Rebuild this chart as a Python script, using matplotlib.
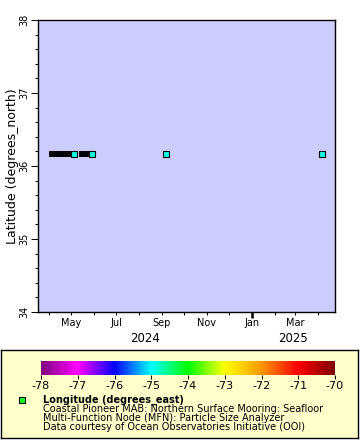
import datetime as dt

import matplotlib
matplotlib.use('Agg')
import matplotlib.pyplot as plt
import matplotlib.dates as mdates
import matplotlib.transforms as mtransforms
from matplotlib.colors import LinearSegmentedColormap, Normalize
from matplotlib.patches import Rectangle
import numpy as np

plt.rcParams['font.family'] = ['DejaVu Sans']
plt.rcParams['axes.unicode_minus'] = False

# deployments drawn as dense runs of points (start, end) plus isolated points
seg_start = ['2024-04-05', '2024-05-15']
seg_end = ['2024-05-05', '2024-05-29']
single_times = ['2024-09-06', '2025-04-06']
latitude = 36.17
longitude = -74.85

x_range = ['2024-03-16', '2025-04-24']
lat_range = (34, 38)
lon_range = (-78, -70)
cbar_ticks = [-78, -77, -76, -75, -74, -73, -72, -71, -70]
cmap_colors = ['#800080', '#ff00ff', '#0000ff', '#00ffff', '#00ff00',
               '#ffff00', '#ff9900', '#ff0000', '#800000']

legend_title = 'Longitude (degrees_east)'
legend_lines = ['Coastal Pioneer MAB: Northern Surface Mooring: Seafloor',
                'Multi-Function Node (MFN): Particle Size Analyzer',
                'Data courtesy of Ocean Observatories Initiative (OOI)']

W, H = 360, 440


def fx(px):
    return px / W


def fy(py):
    return 1 - py / H


def to_date(s):
    return dt.datetime.strptime(s, '%Y-%m-%d')


cmap = LinearSegmentedColormap.from_list('rainbow2', cmap_colors)
norm = Normalize(*lon_range)
pt_color = cmap(norm(longitude))

fig = plt.figure(figsize=(W / 100, H / 100), dpi=100)

# legend box (an empty axes so it sits under the colorbar)
lax = fig.add_axes([fx(1), fy(438), fx(357), fy(350) - fy(438)], zorder=0)
lax.set_facecolor('#ffffcc')
lax.set_xticks([])
lax.set_yticks([])
for sp in lax.spines.values():
    sp.set_linewidth(1)

ax = fig.add_axes([fx(37.5), fy(312), fx(335) - fx(37.5), fy(20) - fy(312)])
ax.set_facecolor('#ccccff')

for s, e in zip(seg_start, seg_end):
    ax.plot([to_date(s), to_date(e)], [latitude, latitude], color='black',
            lw=4.3, solid_capstyle='projecting', zorder=3)
    ax.plot([to_date(e)], [latitude], 's', color=pt_color, mec='black',
            mew=0.8, ms=3.8, zorder=4)
for t in single_times:
    ax.plot([to_date(t)], [latitude], 's', color=pt_color, mec='black',
            mew=0.8, ms=3.8, zorder=4)

ax.set_xlim(to_date(x_range[0]), to_date(x_range[1]))
ax.set_ylim(*lat_range)

ax.xaxis.set_major_locator(mdates.MonthLocator(bymonth=[1, 3, 5, 7, 9, 11]))
ax.xaxis.set_major_formatter(mdates.DateFormatter('%b'))
ax.xaxis.set_minor_locator(mdates.MonthLocator())
ax.tick_params(axis='x', which='both', length=2.5, width=0.7, labelsize=7, pad=2)

ax.set_yticks(np.arange(lat_range[0], lat_range[1] + 1, 1))
ax.set_yticks(np.arange(lat_range[0], lat_range[1] + 0.01, 0.2), minor=True)
ax.tick_params(axis='y', which='major', length=5, width=0.7, labelsize=7,
               pad=1, labelrotation=90)
ax.tick_params(axis='y', which='minor', length=2.5, width=0.7)
for lab in ax.get_yticklabels():
    lab.set_va('center')
ax.set_ylabel('Latitude (degrees_north)', fontsize=9)
ax.yaxis.set_label_coords(-0.062, 0.5)

for sp in ax.spines.values():
    sp.set_linewidth(1)

# thick year tick and year labels
trans = mtransforms.blended_transform_factory(ax.transData, ax.transAxes)
x0, x1 = to_date(x_range[0]), to_date(x_range[1])
for yr in range(x0.year, x1.year + 1):
    a = max(x0, dt.datetime(yr, 1, 1))
    b = min(x1, dt.datetime(yr + 1, 1, 1))
    if dt.datetime(yr, 1, 1) > x0:
        ax.plot([dt.datetime(yr, 1, 1)] * 2, [0, -0.02], color='black', lw=1.8,
                transform=trans, clip_on=False, solid_capstyle='butt')
    ax.text(a + (b - a) / 2, -0.09, str(yr), transform=trans, ha='center',
            va='center', fontsize=8.5)

cax = fig.add_axes([fx(41), fy(375), fx(335) - fx(41), fy(361) - fy(375)],
                   zorder=2)
grad = np.linspace(lon_range[0], lon_range[1], 512).reshape(1, -1)
cax.imshow(grad, aspect='auto', cmap=cmap, norm=norm,
           extent=[lon_range[0], lon_range[1], 0, 1])
cax.set_xlim(*lon_range)
cax.set_yticks([])
cax.set_xticks(cbar_ticks)
cax.set_xticklabels([str(t) for t in cbar_ticks])
cax.tick_params(axis='x', length=3, width=0.7, labelsize=8, pad=1)
for sp in cax.spines.values():
    sp.set_visible(False)

fig.patches.append(Rectangle((fx(19), fy(403)), fx(5.5), fy(397) - fy(403),
                             transform=fig.transFigure, facecolor='#00ff00',
                             edgecolor='black', lw=0.8, zorder=5))
fig.text(fx(43), fy(400), legend_title, fontsize=7, fontweight='bold',
         va='center', ha='left', zorder=5)
for i, line in enumerate(legend_lines):
    fig.text(fx(43), fy(409 + 9.2 * i), line, fontsize=7, va='center',
             ha='left', zorder=5)

fig.savefig('out.png', dpi=100)
